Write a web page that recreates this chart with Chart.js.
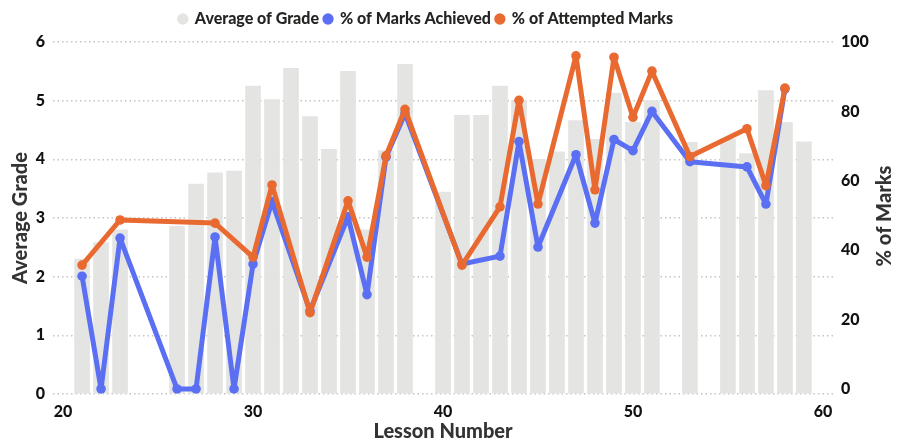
<!DOCTYPE html>
<html>
<head>
<meta charset="utf-8">
<script src="https://cdn.jsdelivr.net/npm/chart.js@4.4.1/dist/chart.umd.min.js"></script>
<style>
  html, body { margin: 0; padding: 0; background: #fff; }
  #wrap { width: 900px; height: 444px; }
</style>
</head>
<body>
<div id="wrap"><canvas id="gradeChart"></canvas></div>
<script>
// lesson numbers that have data
const lessons = [21, 22, 23, 26, 27, 28, 29, 30, 31, 32, 33, 34, 35, 36, 37, 38,
  40, 41, 42, 43, 44, 45, 46, 47, 48, 49, 50, 51, 53, 55, 56, 57, 58, 59];

// Average of Grade (left axis)
const avgGrade = [2.30, 2.58, 2.80, 2.86, 3.58, 3.77, 3.80, 5.25, 5.02, 5.55, 4.73, 4.17, 5.50, 2.80, 4.15, 5.62,
  3.44, 4.75, 4.75, 5.25, 5.00, 4.00, 4.13, 4.66, 4.34, 5.13, 4.63, 5.00, 4.29, 4.35, 4.10, 5.17, 4.63, 4.30];

// % of Marks Achieved (right axis)
const marksAchieved = [32.5, 0, 43.5, 0, 0, 43.8, 0, 36, 54, null, 22.5, null, 49.6, 27.2, 66.8, 79.4,
  null, 36, null, 38.3, 71.3, 40.9, null, 67.5, 47.8, 71.9, 68.7, 80, 65.5, null, 64, 53.3, 86.5, null];

// % of Attempted Marks (right axis)
const attemptedMarks = [35.7, null, 48.7, null, null, 47.8, null, 38, 58.8, null, 22, null, 54.2, 38, 67.2, 80.6,
  null, 35.7, null, 52.5, 83.2, 53.3, null, 96, 57.4, 95.6, 78.3, 91.6, 67, null, 75, 58.6, 86.7, null];

const xTicks = [20, 30, 40, 50, 60];
const gradeTicks = [0, 1, 2, 3, 4, 5, 6];
const pctTicks = [0, 20, 40, 60, 80, 100];

const FONT = 'Lato, "Noto Sans", sans-serif';
const BLUE = '#5b6ff3';
const ORANGE = '#e96a31';
const GREY = '#e4e5e3';

function toPoints(values) {
  return lessons.map((l, i) => ({ x: l, y: values[i] }));
}

// right axis title reads bottom-to-top, so draw it ourselves
const rightTitle = {
  id: 'rightTitle',
  afterDraw(chart) {
    const ctx = chart.ctx;
    const area = chart.chartArea;
    ctx.save();
    ctx.translate(885, (area.top + area.bottom) / 2 - 2);
    ctx.rotate(-Math.PI / 2);
    ctx.font = '900 20px ' + FONT;
    ctx.fillStyle = '#333333';
    ctx.textAlign = 'center';
    ctx.textBaseline = 'middle';
    ctx.fillText('% of Marks', 0, 0);
    ctx.restore();
  }
};

// a bit more room under the legend, and legend sits a little left of centre
const legendTweak = {
  id: 'legendTweak',
  beforeInit(chart) {
    const fit = chart.legend.fit;
    chart.legend.fit = function () {
      fit.bind(chart.legend)();
      this.height += 5;
    };
  },
  afterLayout(chart) {
    chart.legend.left = 0;
    chart.legend.right = chart.width - 48;
  }
};

const lineStyle = {
  borderWidth: 5,
  pointRadius: 4.8,
  pointBorderWidth: 0,
  borderJoinStyle: 'round',
  borderCapStyle: 'round',
  tension: 0,
  spanGaps: true
};

const ctx = document.getElementById('gradeChart').getContext('2d');
new Chart(ctx, {
  type: 'bar',
  data: {
    datasets: [
      {
        type: 'bar',
        label: 'Average of Grade',
        data: toPoints(avgGrade),
        backgroundColor: GREY,
        borderWidth: 0,
        barThickness: 15,
        yAxisID: 'y',
        order: 3
      },
      Object.assign({
        type: 'line',
        label: '% of Marks Achieved',
        data: toPoints(marksAchieved),
        borderColor: BLUE,
        backgroundColor: BLUE,
        yAxisID: 'y1',
        order: 2
      }, lineStyle),
      Object.assign({
        type: 'line',
        label: '% of Attempted Marks',
        data: toPoints(attemptedMarks),
        borderColor: ORANGE,
        backgroundColor: ORANGE,
        yAxisID: 'y1',
        order: 1
      }, lineStyle)
    ]
  },
  options: {
    responsive: true,
    maintainAspectRatio: false,
    animation: false,
    layout: { padding: { top: 6, left: 0, right: 0, bottom: 0 } },
    plugins: {
      legend: {
        position: 'top',
        labels: {
          usePointStyle: true,
          pointStyle: 'circle',
          boxWidth: 8,
          boxHeight: 8,
          padding: 5,
          color: '#252423',
          font: { family: FONT, size: 16, weight: '900' },
          sort: (a, b) => a.datasetIndex - b.datasetIndex
        }
      },
      tooltip: { enabled: false }
    },
    scales: {
      x: {
        type: 'linear',
        offset: false,
        min: 19.47,
        max: 60.53,
        afterBuildTicks: (s) => { s.ticks = xTicks.map(v => ({ value: v })); },
        afterFit: (s) => { s.height = 50; },
        grid: { display: false, drawTicks: false },
        border: { display: false },
        ticks: { color: '#111', padding: 8, font: { family: FONT, size: 16, weight: '900' } },
        title: {
          display: true,
          text: 'Lesson Number',
          color: '#333333',
          padding: { top: 0, bottom: 0 },
          font: { family: FONT, size: 20, weight: '900' }
        }
      },
      y: {
        position: 'left',
        min: 0,
        max: 6,
        afterBuildTicks: (s) => { s.ticks = gradeTicks.map(v => ({ value: v })); },
        afterFit: (s) => { s.width = 53; },
        border: { display: false, dash: [1.5, 3] },
        grid: { color: '#c4c4c4', lineWidth: 1.5, drawTicks: false },
        ticks: { color: '#111', padding: 8, font: { family: FONT, size: 16, weight: '900' } },
        title: {
          display: true,
          text: 'Average Grade',
          color: '#333333',
          padding: { top: 9, bottom: 0 },
          font: { family: FONT, size: 20, weight: '900' }
        }
      },
      y1: {
        position: 'right',
        min: -1.45,
        max: 100,
        afterBuildTicks: (s) => { s.ticks = pctTicks.map(v => ({ value: v })); },
        afterFit: (s) => { s.width = 67; },
        border: { display: false },
        grid: { display: false, drawTicks: false },
        ticks: { color: '#111', padding: 8, font: { family: FONT, size: 16, weight: '900' } }
      }
    }
  },
  plugins: [rightTitle, legendTweak]
});
</script>
</body>
</html>
